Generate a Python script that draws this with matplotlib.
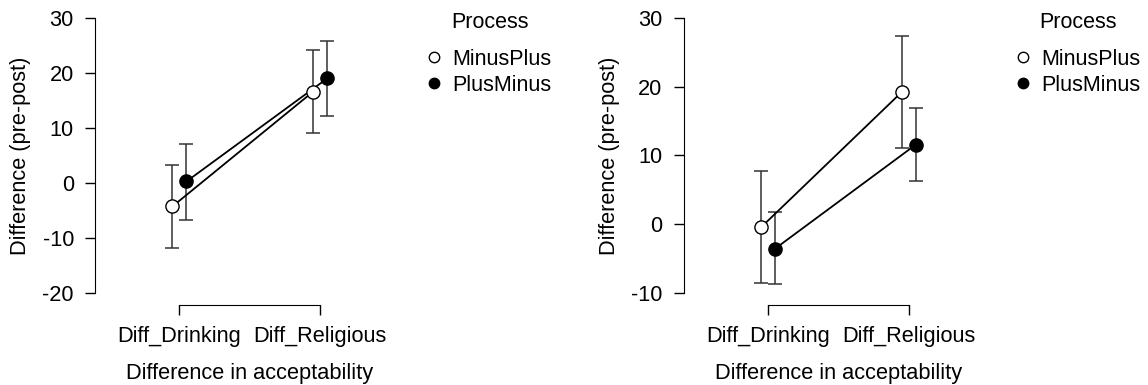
import numpy as np
import matplotlib.pyplot as plt
from matplotlib.lines import Line2D

plt.rcParams['font.family'] = ['Liberation Sans', 'DejaVu Sans']

categories = ["Diff_Drinking", "Diff_Religious"]
processes = ["MinusPlus", "PlusMinus"]

# left panel: means and CI bounds per process
left_minusplus_mean = [-4.3, 16.6]
left_minusplus_lo = [-11.8, 9.1]
left_minusplus_hi = [3.2, 24.1]
left_plusminus_mean = [0.25, 19.0]
left_plusminus_lo = [-6.8, 12.1]
left_plusminus_hi = [7.1, 25.9]

# right panel
right_minusplus_mean = [-0.5, 19.2]
right_minusplus_lo = [-8.6, 11.1]
right_minusplus_hi = [7.7, 27.4]
right_plusminus_mean = [-3.6, 11.55]
right_plusminus_lo = [-8.8, 6.3]
right_plusminus_hi = [1.75, 16.9]

left_yticks = [-20, -10, 0, 10, 20, 30]
right_yticks = [-10, 0, 10, 20, 30]

W, H = 1148, 385
FS = 15.7
LEG_FS = 15.5


def draw_panel(ax, series, yticks):
    x = np.arange(len(categories))
    for (mean, lo, hi), face, dx in zip(series, ['white', 'black'], [-0.05, 0.05]):
        mean, lo, hi = np.array(mean), np.array(lo), np.array(hi)
        xs = x + dx
        ax.plot(xs, mean, color='black', lw=1.3, zorder=2)
        ax.errorbar(xs, mean, yerr=[mean - lo, hi - mean], fmt='none',
                    ecolor='#333333', elinewidth=1.1, capsize=5, capthick=1.1, zorder=1)
        ax.plot(xs, mean, 'o', mfc=face, mec='black', ms=9.5, mew=1, zorder=3)

    ax.set_xlim(-0.6, 1.6)
    ax.set_ylim(yticks[0], yticks[-1])
    ax.set_yticks(yticks)
    ax.set_yticklabels([str(t) for t in yticks])
    ax.set_xticks(x)
    ax.set_xticklabels(categories)

    for s in ['top', 'right']:
        ax.spines[s].set_visible(False)
    ax.spines['left'].set_bounds(yticks[0], yticks[-1])
    ax.spines['bottom'].set_position(('outward', 9))
    ax.spines['bottom'].set_bounds(0, 1)
    ax.tick_params(axis='y', length=7.2, width=1, labelsize=FS, pad=8)
    ax.tick_params(axis='x', length=7.2, width=1, labelsize=FS, pad=8)

    ax.set_ylabel("Difference (pre-post)", fontsize=FS, labelpad=8)
    ax.set_xlabel("Difference in acceptability", fontsize=FS, labelpad=11)

    handles = [Line2D([], [], ls='none', marker='o', mfc=f, mec='black', ms=7.5, mew=1)
               for f in ['white', 'black']]
    left_px = ax.get_position().x0 * W
    ax.legend(handles, processes, loc='upper left', frameon=False, fontsize=LEG_FS,
              bbox_to_anchor=((left_px + 328.6) / W, 1 - 49 / H),
              bbox_transform=ax.figure.transFigure, borderaxespad=0, borderpad=0,
              handlelength=1.0, handletextpad=0.35, labelspacing=0.22)
    ax.figure.text((left_px + 356) / W, 1 - 23 / H, "Process", fontsize=LEG_FS,
                   ha='left', va='center')


fig = plt.figure(figsize=(W / 100, H / 100), dpi=100)
bottom = 1 - 292.7 / H
height = (292.7 - 18) / H
width = (404.6 - 95) / W
ax1 = fig.add_axes([95 / W, bottom, width, height])
ax2 = fig.add_axes([683.5 / W, bottom, width, height])

draw_panel(ax1, [(left_minusplus_mean, left_minusplus_lo, left_minusplus_hi),
                 (left_plusminus_mean, left_plusminus_lo, left_plusminus_hi)], left_yticks)
draw_panel(ax2, [(right_minusplus_mean, right_minusplus_lo, right_minusplus_hi),
                 (right_plusminus_mean, right_plusminus_lo, right_plusminus_hi)], right_yticks)

fig.savefig("out.png", dpi=100)
